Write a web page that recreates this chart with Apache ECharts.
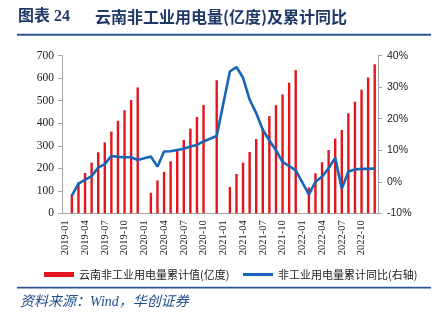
<!DOCTYPE html>
<html>
<head>
<meta charset="utf-8">
<script src="https://cdn.jsdelivr.net/npm/echarts@6/dist/echarts.min.js"></script>
<style>
  html, body { margin: 0; padding: 0; background: #fff; }
  #chart { width: 434px; height: 322px; }
</style>
</head>
<body>
<div id="chart"></div>
<script>
// Months 2019-01 .. 2022-12
const months = [
  '2019-01','2019-02','2019-03','2019-04','2019-05','2019-06','2019-07','2019-08','2019-09','2019-10','2019-11','2019-12',
  '2020-01','2020-02','2020-03','2020-04','2020-05','2020-06','2020-07','2020-08','2020-09','2020-10','2020-11','2020-12',
  '2021-01','2021-02','2021-03','2021-04','2021-05','2021-06','2021-07','2021-08','2021-09','2021-10','2021-11','2021-12',
  '2022-01','2022-02','2022-03','2022-04','2022-05','2022-06','2022-07','2022-08','2022-09','2022-10','2022-11','2022-12'
];

// Cumulative non-industrial electricity use, 100 million kWh (null = not published)
const cumUse = [
  null, 83, 136, 179, 225, 271, 315, 363, 411, 458, 503, 559,
  null, 91, 146, 184, 231, 278, 326, 376, 428, 481, null, 591,
  null, 117, 175, 225, 272, 330, 377, 432, 480, 528, 580, 636,
  null, 115, 178, 227, 281, 332, 370, 444, 496, 549, 603, 662
];

// Cumulative year-on-year growth, % (right axis)
const cumYoY = [
  null, -4.4, -0.6, 0.6, 1.8, 4.5, 5.6, 8.2, 7.9, 7.8, 7.8, 6.9,
  null, 8.0, 4.8, 9.6, 9.7, 10.1, 10.5, 11.2, 11.7, 12.8, null, 14.5,
  null, 35.0, 36.4, 33.0, 26.1, 21.8, 16.5, 13.1, 10.0, 6.3, 5.0, 3.6,
  null, -4.0, 0.0, 1.6, 4.3, 7.6, -2.2, 3.3, 3.9, 4.1, 4.1, 4.2
];

const barName = '云南非工业用电量累计值(亿度)';
const lineName = '非工业用电量累计同比(右轴)';

const axisGrey = '#A6A6A6';
const serif = '"Liberation Serif", "Noto Sans CJK SC", serif';
const cjk = '"Noto Sans CJK SC", sans-serif';

const chart = echarts.init(document.getElementById('chart'), null, { renderer: 'canvas' });

chart.setOption({
  animation: false,
  backgroundColor: '#ffffff',
  grid: { left: 62, right: 56, top: 55.7, bottom: 108.7, containLabel: false },
  graphic: [
    {
      type: 'text', left: 18, top: 9,
      style: { text: '图表 24', font: 'bold 16px "Liberation Serif", "Noto Sans CJK SC", serif', fill: '#1F3A68' }
    },
    {
      type: 'text', left: 95, top: 9,
      style: { text: '云南非工业用电量(亿度)及累计同比', font: 'bold 16px "Noto Sans CJK SC", sans-serif', fill: '#1F3A68' }
    },
    {
      type: 'rect', shape: { x: 17, y: 33.7, width: 414, height: 2 },
      style: { fill: '#2F5496' }
    },
    {
      type: 'rect', shape: { x: 17, y: 286.8, width: 414, height: 1.6 },
      style: { fill: '#2F5496' }
    },
    {
      type: 'text', left: 20, top: 295,
      style: { text: '资料来源：Wind，华创证券', font: 'italic 14px "Liberation Serif", "Noto Sans CJK SC", serif', fill: '#1F4E8C' }
    }
  ],
  legend: [
    {
      data: [{ name: barName, icon: 'rect' }],
      left: 39, top: 264,
      itemWidth: 30, itemHeight: 5, itemGap: 4,
      textStyle: { fontFamily: cjk, fontSize: 11, color: '#222' }
    },
    {
      data: [{ name: lineName, icon: 'rect' }],
      left: 238, top: 264,
      itemWidth: 30, itemHeight: 3, itemGap: 4,
      textStyle: { fontFamily: cjk, fontSize: 11, color: '#222' }
    }
  ],
  xAxis: {
    type: 'category',
    data: months,
    boundaryGap: true,
    axisLine: { lineStyle: { color: axisGrey, width: 1 } },
    axisTick: { interval: 2, length: 4, lineStyle: { color: '#666' } },
    axisLabel: {
      interval: 2, rotate: 90, margin: 7,
      fontFamily: serif, fontSize: 10.5, color: '#222'
    },
    splitLine: { show: false }
  },
  yAxis: [
    {
      type: 'value', min: 0, max: 700, interval: 100,
      axisLine: { show: true, lineStyle: { color: axisGrey } },
      axisTick: { show: true, length: 4, lineStyle: { color: axisGrey } },
      axisLabel: { fontFamily: serif, fontSize: 11.5, color: '#222', margin: 8 },
      splitLine: { show: false }
    },
    {
      type: 'value', min: -10, max: 40, interval: 10,
      axisLine: { show: true, lineStyle: { color: axisGrey } },
      axisTick: { show: true, length: 4, lineStyle: { color: axisGrey } },
      axisLabel: { formatter: '{value}%', fontFamily: '"Liberation Sans", sans-serif', fontSize: 10.5, color: '#222', margin: 9 },
      splitLine: { show: false }
    }
  ],
  series: [
    {
      name: barName,
      type: 'bar',
      data: cumUse,
      barWidth: 2.4,
      itemStyle: { color: '#E3141B' }
    },
    {
      name: lineName,
      type: 'line',
      yAxisIndex: 1,
      data: cumYoY,
      connectNulls: true,
      showSymbol: false,
      symbol: 'none',
      lineStyle: { color: '#1565B8', width: 2.6 },
      itemStyle: { color: '#1565B8' }
    }
  ]
});
</script>
</body>
</html>
